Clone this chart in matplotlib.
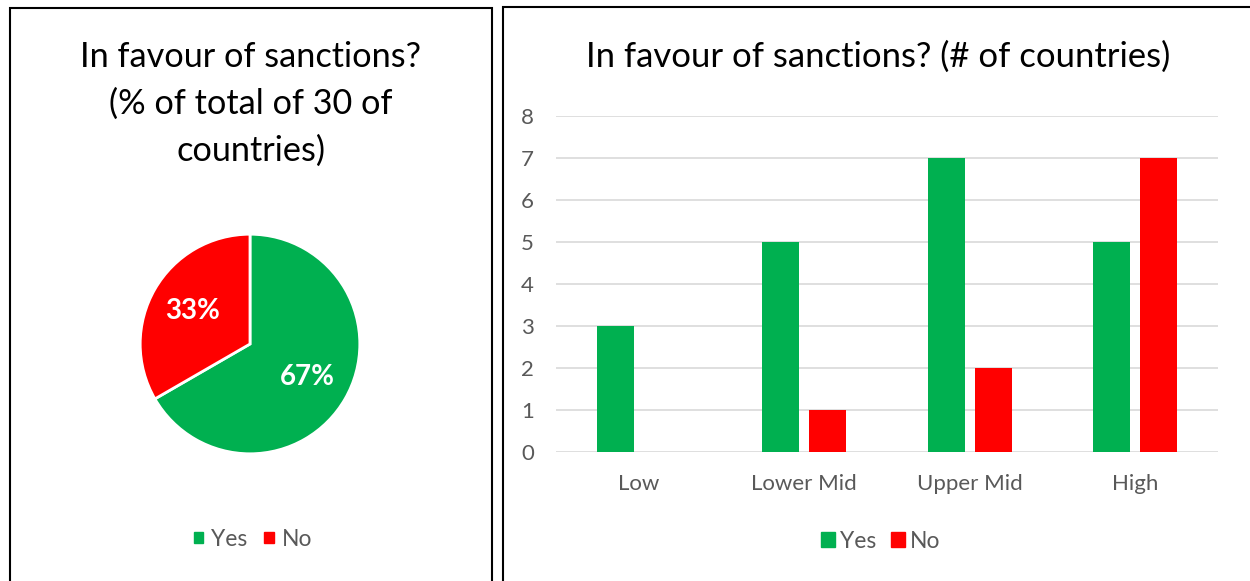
import numpy as np
import matplotlib
matplotlib.use("Agg")
import matplotlib.pyplot as plt
from matplotlib.patches import Rectangle, Patch

plt.rcParams['font.family'] = ['Lato', 'DejaVu Sans']

# data
pie_labels = ['Yes', 'No']
pie_values = [20, 10]
categories = ['Low', 'Lower Mid', 'Upper Mid', 'High']
yes_counts = [3, 5, 7, 5]
no_counts = [0, 1, 2, 7]

GREEN = '#00B050'
RED = '#FF0000'
GRAY = '#595959'

W, H = 1250, 581
fig = plt.figure(figsize=(W / 100, H / 100), dpi=100)

def fx(x):
  return x / W

def fy(y):
  return 1 - y / H

# panel borders
fig.patches.append(Rectangle((fx(10), fy(590)), fx(482), fy(8) - fy(590), transform=fig.transFigure,
                             fill=False, edgecolor='black', linewidth=1.5))
fig.patches.append(Rectangle((fx(503), fy(590)), fx(760), fy(7) - fy(590), transform=fig.transFigure,
                             fill=False, edgecolor='black', linewidth=1.5))

# ---- pie ----
fig.text(fx(251), fy(104), 'In favour of sanctions?\n(% of total of 30 of\ncountries)', ha='center', va='center',
         fontsize=24.7, linespacing=1.55, color='black')
axp = fig.add_axes([fx(138), fy(456), fx(224), fy(232) - fy(456)])
wedges, texts, autotexts = axp.pie(pie_values, colors=[GREEN, RED], startangle=90, counterclock=False,
                                   autopct='%1.0f%%', pctdistance=0.6,
                                   wedgeprops=dict(edgecolor='white', linewidth=2),
                                   textprops=dict(color='white', fontsize=20, fontweight='bold'))
axp.set_xlim(-1.02, 1.02)
axp.set_ylim(-1.02, 1.02)
fig.legend(handles=[Patch(color=GREEN, label='Yes'), Patch(color=RED, label='No')],
           loc='center', bbox_to_anchor=(fx(253), fy(539)), ncol=2, frameon=False,
           fontsize=16.5, labelcolor=GRAY, handlelength=0.4, handleheight=0.4, handletextpad=0.35,
           columnspacing=0.75)

# ---- bars ----
fig.text(fx(878), fy(57), 'In favour of sanctions? (# of countries)', ha='center', va='center',
         fontsize=24.9, color='black')
axb = fig.add_axes([fx(556), fy(452), fx(662), fy(116) - fy(452)])
x = np.arange(len(categories))
bw = 0.224
axb.bar(x - 0.142, yes_counts, width=bw, color=GREEN, zorder=3)
axb.bar(x + 0.142, no_counts, width=bw, color=RED, zorder=3)
axb.set_xlim(-0.5, 3.5)
axb.set_ylim(0, 8)
axb.set_yticks(range(9))
axb.set_xticks(x)
axb.set_xticklabels(categories)
axb.grid(axis='y', color='#d9d9d9', linewidth=1.2, zorder=0)
for s in axb.spines.values():
  s.set_visible(False)
axb.tick_params(axis='both', length=0, labelsize=16, labelcolor=GRAY)
axb.tick_params(axis='y', pad=16)
axb.tick_params(axis='x', pad=16)
fig.legend(handles=[Patch(color=GREEN, label='Yes'), Patch(color=RED, label='No')],
           loc='center', bbox_to_anchor=(fx(881), fy(541)), ncol=2, frameon=False,
           fontsize=16.5, labelcolor=GRAY, handlelength=0.61, handleheight=0.61, handletextpad=0.22,
           columnspacing=0.65)

fig.savefig('out.png', dpi=100)
